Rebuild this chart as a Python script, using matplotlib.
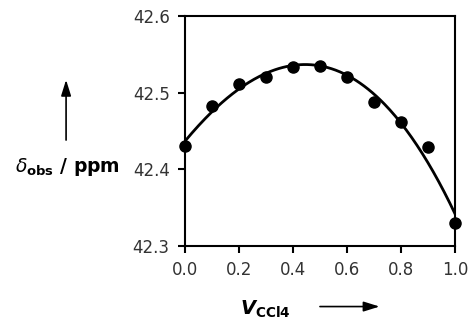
import numpy as np
import matplotlib
matplotlib.use("Agg")
import matplotlib.pyplot as plt

# Messwerte
v_ccl4 = [0.0, 0.1, 0.2, 0.3, 0.4, 0.5, 0.6, 0.7, 0.8, 0.9, 1.0]
delta_obs = [42.430, 42.483, 42.511, 42.521, 42.534, 42.535, 42.521, 42.488, 42.462, 42.429, 42.330]
x_ticks = [0.0, 0.2, 0.4, 0.6, 0.8, 1.0]
y_ticks = [42.3, 42.4, 42.5, 42.6]

plt.rcParams["font.family"] = "DejaVu Sans"
plt.rcParams["mathtext.fontset"] = "dejavusans"

fig = plt.figure(figsize=(4.72, 3.21), dpi=100)
ax = fig.add_axes([0.392, 0.234, 0.572, 0.716])

# Fit-Kurve (Polynom 3. Grades)
coef = np.polyfit(v_ccl4, delta_obs, 3)
xs = np.linspace(0, 1, 200)
ax.plot(xs, np.polyval(coef, xs), color="black", lw=2.0, zorder=2)
ax.plot(v_ccl4, delta_obs, "o", color="black", ms=8, zorder=3, clip_on=False)

ax.set_xlim(0, 1)
ax.set_ylim(42.3, 42.6)
ax.set_xticks(x_ticks)
ax.set_yticks(y_ticks)
ax.set_xticklabels([f"{t:.1f}" for t in x_ticks])
ax.set_yticklabels([f"{t:.1f}" for t in y_ticks])
ax.tick_params(direction="out", length=5, width=1.5, labelsize=12,
               labelcolor="#333333", pad=6)
for s in ax.spines.values():
    s.set_linewidth(1.5)

# Achsenbeschriftungen
fig.text(0.143, 0.48, r"$\delta_{\mathbf{obs}}$ / ppm", fontsize=13.5,
         fontweight="bold", ha="center", va="center")
fig.text(0.562, 0.035, r"$\mathbfit{V}_{\mathbf{CCl4}}$", fontsize=14,
         ha="center", va="center")

# Pfeile
fig.add_artist(matplotlib.patches.FancyArrowPatch(
    (0.14, 0.555), (0.14, 0.76), transform=fig.transFigure,
    arrowstyle="-|>,head_length=0.8,head_width=0.25", color="black",
    lw=1.2, mutation_scale=12))
fig.add_artist(matplotlib.patches.FancyArrowPatch(
    (0.672, 0.045), (0.81, 0.045), transform=fig.transFigure,
    arrowstyle="-|>,head_length=0.8,head_width=0.25", color="black",
    lw=1.2, mutation_scale=12))

fig.savefig("out.png", dpi=100)
